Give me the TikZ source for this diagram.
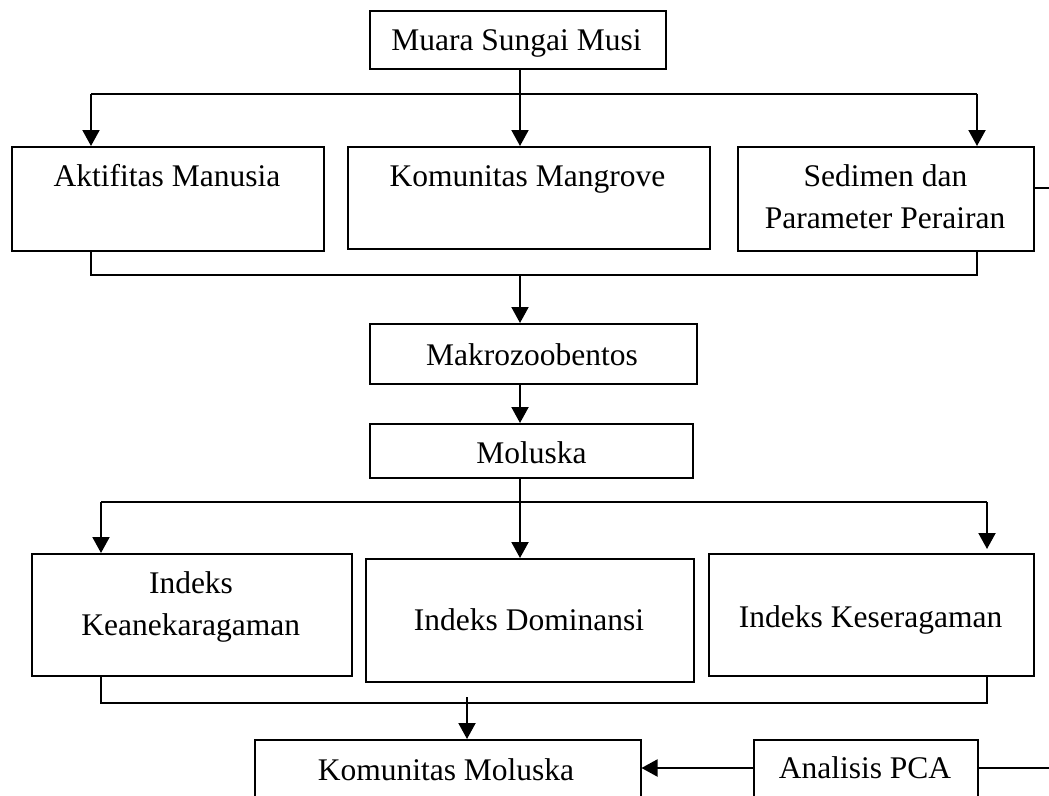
\documentclass[tikz,border=0pt]{standalone}
\usepackage{fontspec}
\setmainfont{Liberation Serif}
\usetikzlibrary{arrows.meta}
\begin{document}
\begin{tikzpicture}[x=1pt,y=-1pt,
  boxstyle/.style={draw, line width=2pt, inner sep=0pt, anchor=north west},
  txt/.style={font=\fontsize{31.5}{41}\selectfont, anchor=base, inner sep=0pt},
  ln/.style={line width=2pt},
  arr/.style={line width=2pt, -{Triangle[length=16pt,width=17pt]}}]
\useasboundingbox (0,0) rectangle (1049,795);
\clip (0,0) rectangle (1049,795);
% boxes
\node[boxstyle, minimum width=296.4pt, minimum height=58.3pt] (muara) at (368.6,9.7) {};
\node[boxstyle, minimum width=311.6pt, minimum height=104pt] (akt) at (11.4,146) {};
\node[boxstyle, minimum width=362pt, minimum height=102pt] (kom) at (347,146) {};
\node[boxstyle, minimum width=296pt, minimum height=104pt] (sed) at (737,146) {};
\node[boxstyle, minimum width=327.4pt, minimum height=60pt] (makro) at (368.6,323) {};
\node[boxstyle, minimum width=323.4pt, minimum height=54pt] (mol) at (368.6,423) {};
\node[boxstyle, minimum width=319.7pt, minimum height=122pt] (kea) at (30.8,553) {};
\node[boxstyle, minimum width=328.5pt, minimum height=123pt] (dom) at (364.5,558) {};
\node[boxstyle, minimum width=325pt, minimum height=122pt] (kes) at (708,553) {};
\node[boxstyle, minimum width=386pt, minimum height=80pt] (kmol) at (253.5,739) {};
\node[boxstyle, minimum width=224pt, minimum height=80pt] (pca) at (753,739) {};
% texts
\node[txt] (tmuara) at (516.5,50) {Muara Sungai Musi};
\node[txt] (takt) at (167,186) {Aktifitas Manusia};
\node[txt] (tkom) at (527.5,186) {Komunitas Mangrove};
\node[txt] (tsed1) at (885.5,186) {Sedimen dan};
\node[txt] (tsed2) at (885,228) {Parameter Perairan};
\node[txt] (tmakro) at (532,365) {Makrozoobentos};
\node[txt] (tmol) at (531.6,463) {Moluska};
\node[txt] (tkea1) at (191,593) {Indeks};
\node[txt] (tkea2) at (190.7,635) {Keanekaragaman};
\node[txt] (tdom) at (529,630) {Indeks Dominansi};
\node[txt] (tkes) at (870.6,627) {Indeks Keseragaman};
\node[txt] (tkmol) at (446,780) {Komunitas Moluska};
\node[txt] (tpca) at (865,778) {Analisis PCA};
% branch coordinates
\coordinate (b1) at (520,93.7);
\coordinate (b1l) at (91,93.7);
\coordinate (b1r) at (977,93.7);
\coordinate (j1) at (520,275);
\coordinate (j1l) at (91,275);
\coordinate (j1r) at (977,275);
\coordinate (b2) at (520,502);
\coordinate (b2l) at (101,502);
\coordinate (b2r) at (987,502);
\coordinate (j2l) at (101,703);
\coordinate (j2r) at (987,703);
\coordinate (j2s) at (467,697);
\coordinate (edge1) at (1052,188);
\coordinate (edge2) at (1052,768);
\coordinate (pl) at (0,768);
% connectors
\draw[arr] (b1 |- muara.south) -- (b1 |- kom.north);
\draw[ln] (b1l) -- (b1r);
\draw[arr] (b1l) -- (b1l |- akt.north);
\draw[arr] (b1r) -- (b1r |- sed.north);
\draw[ln] (j1l |- akt.south) -- (j1l) -- (j1r) -- (j1r |- sed.south);
\draw[arr] (j1) -- (j1 |- makro.north);
\draw[arr] (j1 |- makro.south) -- (j1 |- mol.north);
\draw[ln] (b2 |- mol.south) -- (b2);
\draw[ln] (b2l) -- (b2r);
\draw[arr] (b2l) -- (b2l |- kea.north);
\draw[arr] (b2) -- (b2 |- dom.north);
\draw[arr] (b2r) -- ([yshift=4pt]b2r |- kes.north);
\draw[ln] (j2l |- kea.south) -- (j2l) -- (j2r) -- (j2r |- kes.south);
\draw[arr] (j2s) -- (j2s |- kmol.north);
\draw[arr] (pl -| pca.west) -- (pl -| kmol.east);
\draw[ln] (pl -| pca.east) -- (edge2);
\draw[ln] (edge1 -| sed.east) -- (edge1);
\end{tikzpicture}
\end{document}
